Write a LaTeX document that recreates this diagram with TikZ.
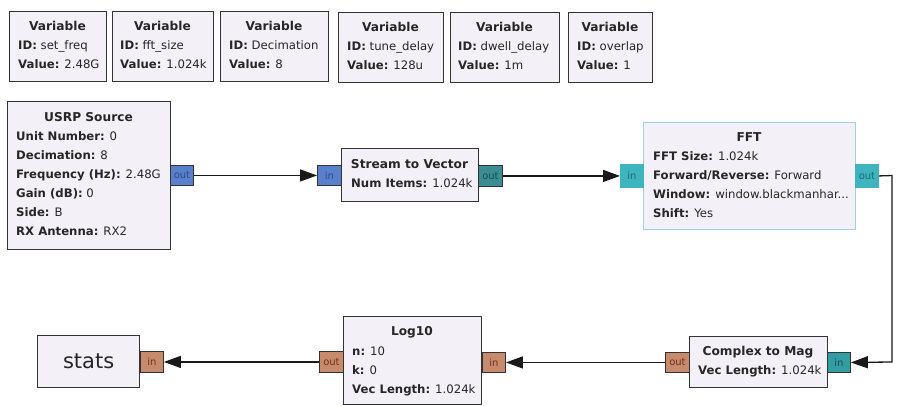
\documentclass[tikz,border=0pt]{standalone}
\usepackage{fontspec}
\setmainfont{DejaVu Sans}
\usetikzlibrary{arrows.meta}
\definecolor{blkfill}{HTML}{F3F1F7}
\definecolor{blkdraw}{HTML}{333333}
\definecolor{selborder}{HTML}{9ED4E2}
\definecolor{cpxport}{HTML}{5A80CC}
\definecolor{cpxtext}{HTML}{2E4A8E}
\definecolor{vecport}{HTML}{3C8C94}
\definecolor{vectext}{HTML}{1E4C52}
\definecolor{fftport}{HTML}{3DB4BE}
\definecolor{ffttext}{HTML}{1E6A72}
\definecolor{fltport}{HTML}{C88A6C}
\definecolor{flttext}{HTML}{6A3622}
\newcommand{\blkfont}{\fontsize{11.7}{13}\selectfont}
\newcommand{\ttlfont}{\fontsize{12.2}{14}\selectfont}
\newcommand{\prtfont}{\fontsize{10}{11}\selectfont}
\tikzset{
  blk/.style={draw=blkdraw, fill=blkfill, line width=1.3pt, inner sep=0, anchor=north west},
  txt/.style={anchor=base west, inner sep=0, font=\blkfont, text=black!85},
  ttl/.style={anchor=base, inner sep=0, font=\ttlfont\bfseries, text=black!85},
  prt/.style={draw=blkdraw, line width=0.9pt, inner sep=0, anchor=north west, font=\prtfont},
  cpx/.style={prt, fill=cpxport, text=cpxtext},
  vec/.style={prt, fill=vecport, text=vectext},
  fftp/.style={prt, draw=fftport, fill=fftport, text=ffttext},
  flt/.style={prt, fill=fltport, text=flttext},
  wire/.style={line width=1.3pt, draw=black!90, -{Triangle[length=17pt,width=12pt]}}
}
\begin{document}
\begin{tikzpicture}[x=1pt,y=-1pt]
\useasboundingbox[fill=white] (0,0) rectangle (897,406);
% Variable blocks
\node[blk, minimum width=97pt, minimum height=70pt] (v1) at (9,11) {};
\node[ttl] (v1t) at (57.5,31) {Variable};
\node[txt] (v1a) at (18,50) {\textbf{ID:} set\_freq};
\node[txt] (v1b) at (18,69) {\textbf{Value:} 2.48G};
\node[blk, minimum width=101pt, minimum height=70pt] (v2) at (112,11) {};
\node[ttl] (v2t) at (162.5,31) {Variable};
\node[txt] (v2a) at (120,50) {\textbf{ID:} fft\_size};
\node[txt] (v2b) at (120,69) {\textbf{Value:} 1.024k};
\node[blk, minimum width=108pt, minimum height=70pt] (v3) at (220,11) {};
\node[ttl] (v3t) at (274,31) {Variable};
\node[txt] (v3a) at (229,50) {\textbf{ID:} Decimation};
\node[txt] (v3b) at (229,69) {\textbf{Value:} 8};
\node[blk, minimum width=105pt, minimum height=70pt] (v4) at (338,12) {};
\node[ttl] (v4t) at (390.5,32) {Variable};
\node[txt] (v4a) at (347,51) {\textbf{ID:} tune\_delay};
\node[txt] (v4b) at (347,70) {\textbf{Value:} 128u};
\node[blk, minimum width=109pt, minimum height=70pt] (v5) at (450,12) {};
\node[ttl] (v5t) at (504.5,32) {Variable};
\node[txt] (v5a) at (458,51) {\textbf{ID:} dwell\_delay};
\node[txt] (v5b) at (458,70) {\textbf{Value:} 1m};
\node[blk, minimum width=84pt, minimum height=70pt] (v6) at (568,12) {};
\node[ttl] (v6t) at (610,32) {Variable};
\node[txt] (v6a) at (577,51) {\textbf{ID:} overlap};
\node[txt] (v6b) at (577,70) {\textbf{Value:} 1};
% USRP Source
\node[blk, minimum width=163pt, minimum height=148pt] (usrp) at (7,101) {};
\node[ttl] (usrpt) at (88.5,122) {USRP Source};
\node[txt] (u1) at (16,141) {\textbf{Unit Number:} 0};
\node[txt] (u2) at (16,160) {\textbf{Decimation:} 8};
\node[txt] (u3) at (16,179) {\textbf{Frequency (Hz):} 2.48G};
\node[txt] (u4) at (16,198) {\textbf{Gain (dB):} 0};
\node[txt] (u5) at (16,217) {\textbf{Side:} B};
\node[txt] (u6) at (16,236) {\textbf{RX Antenna:} RX2};
\node[cpx, minimum width=23pt, minimum height=20pt] (usrpout) at (170,165) {out};
% Stream to Vector
\node[blk, minimum width=137pt, minimum height=53pt] (s2v) at (341,148) {};
\node[ttl] (s2vt) at (409.5,169) {Stream to Vector};
\node[txt] (s2va) at (351,188) {\textbf{Num Items:} 1.024k};
\node[cpx, minimum width=24pt, minimum height=20pt] (s2vin) at (317,165) {in};
\node[vec, minimum width=24pt, minimum height=21pt] (s2vout) at (478,165) {out};
% FFT
\node[blk, draw=selborder, minimum width=212pt, minimum height=107pt] (fft) at (643,122) {};
\node[ttl] (fftt) at (749,142) {FFT};
\node[txt] (f1) at (653,161) {\textbf{FFT Size:} 1.024k};
\node[txt] (f2) at (653,180) {\textbf{Forward/Reverse:} Forward};
\node[txt] (f3) at (653,199) {\textbf{Window:} window.blackmanhar...};
\node[txt] (f4) at (653,218) {\textbf{Shift:} Yes};
\node[fftp, minimum width=23pt, minimum height=23pt] (fftin) at (620,164) {in};
\node[fftp, minimum width=23pt, minimum height=23pt] (fftout) at (855,164) {out};
% Complex to Mag
\node[blk, minimum width=138pt, minimum height=51pt] (c2m) at (689,336) {};
\node[ttl] (c2mt) at (758,355) {Complex to Mag};
\node[txt] (c2ma) at (698,374) {\textbf{Vec Length:} 1.024k};
\node[vec, fill=vecport!85!cyan, minimum width=23pt, minimum height=20pt] (c2min) at (827,352) {in};
\node[flt, minimum width=24pt, minimum height=20pt] (c2mout) at (665,352) {out};
% Log10
\node[blk, minimum width=138pt, minimum height=88pt] (log) at (343,316) {};
\node[ttl] (logt) at (412,335) {Log10};
\node[txt] (l1) at (352,355) {\textbf{n:} 10};
\node[txt] (l2) at (352,374) {\textbf{k:} 0};
\node[txt] (l3) at (352,393) {\textbf{Vec Length:} 1.024k};
\node[flt, minimum width=23pt, minimum height=20pt] (login) at (482,352) {in};
\node[flt, minimum width=24pt, minimum height=21pt] (logout) at (319,351) {out};
% stats
\node[blk, minimum width=102pt, minimum height=52pt] (stats) at (37,335) {};
\node[inner sep=0, font=\fontsize{21}{24}\selectfont, text=black!85] (statst) at (stats.center) {stats};
\node[flt, minimum width=23pt, minimum height=21pt] (statsin) at (140,351) {in};
% connectors
\coordinate (bendA) at (892,175.5);
\coordinate (bendB) at (892,362);
\draw[wire] (usrpout.east) -- (s2vin.west);
\draw[wire] (s2vout.east) -- (fftin.west);
\draw[wire] (fftout.east) -- (bendA) -- (bendB) -- (c2min.east);
\draw[wire] (c2mout.west) -- (login.east);
\draw[wire] (logout.west) -- (statsin.east);
\end{tikzpicture}
\end{document}
